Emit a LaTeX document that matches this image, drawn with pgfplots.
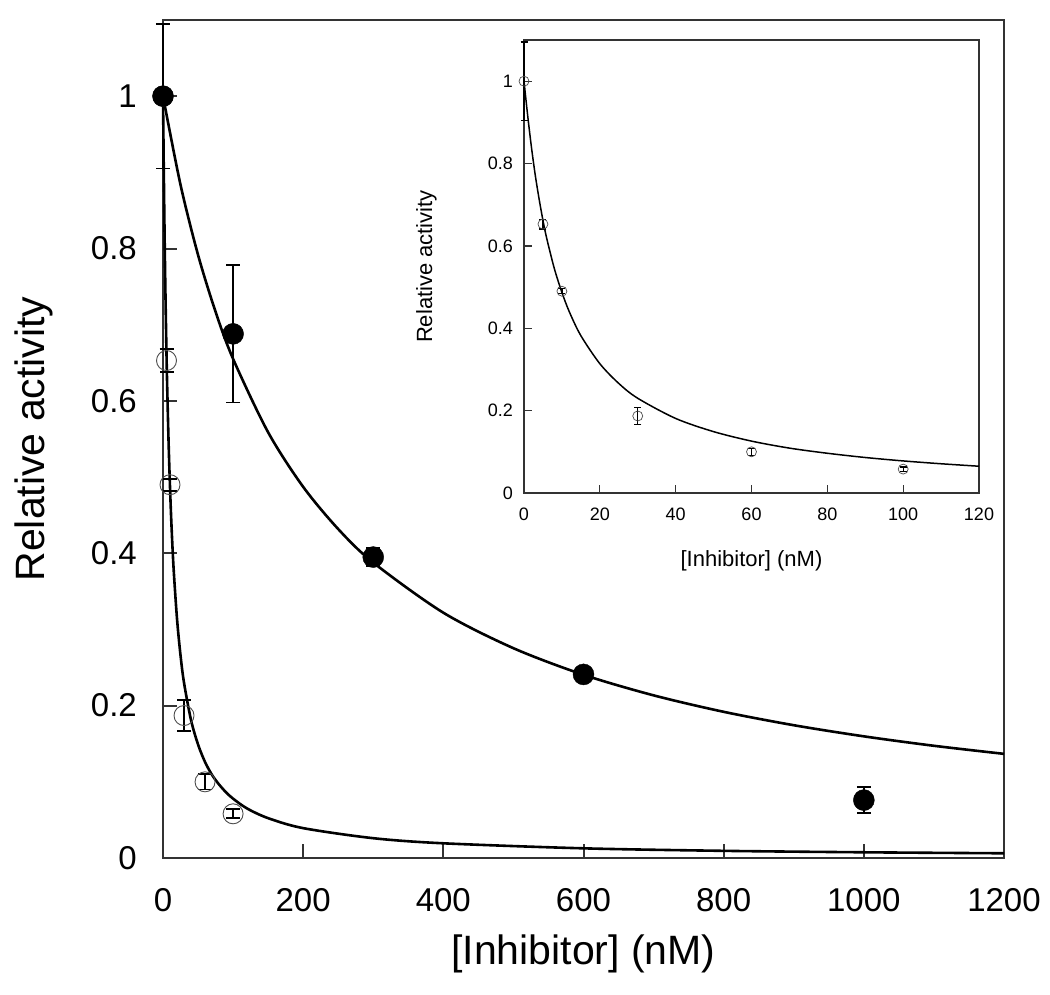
\documentclass[border=0pt]{standalone}
\usepackage{fontspec}
\setmainfont{Liberation Sans}
\usepackage{pgfplots}
\pgfplotsset{compat=1.18}
\begin{document}
\begin{tikzpicture}
\path[use as bounding box] (-163pt,-136pt) rectangle (887pt,858pt);
% ---------------- main axis ----------------
\begin{axis}[
  at={(0pt,0pt)}, anchor=south west,
  scale only axis, width=841pt, height=838pt,
  xmin=0, xmax=1200, ymin=0, ymax=1.1,
  clip=false,
  axis line style={black!80, line width=2.2pt},
  xtick={0,200,400,600,800,1000,1200},
  xticklabels={0,200,400,600,800,1000,1200},
  ytick={0,0.2,0.4,0.6,0.8,1},
  yticklabels={0,0.2,0.4,0.6,0.8,1},
  xtick pos=bottom, ytick pos=left, tick align=inside,
  major tick length=14pt,
  tick style={black!80, line width=2pt},
  ticklabel style={font=\fontsize{33}{33}\selectfont, inner sep=0pt},
  xticklabel style={anchor=north, yshift=-30pt},
  yticklabel style={anchor=east, xshift=-26pt},
  xlabel={[Inhibitor] (nM)},
  xlabel style={at={(axis description cs:0.5,-0.0919)}, anchor=north, inner sep=0pt, font=\fontsize{41}{41}\selectfont},
  ylabel={Relative activity},
  ylabel style={at={(axis description cs:-0.1308,0.5)}, anchor=south, inner sep=0pt, font=\fontsize{41}{41}\selectfont},
]
% fit curve, filled series
\addplot[black, line width=2.6pt, smooth] coordinates {
(0,1) (25,0.8837) (50,0.7917) (75,0.7170) (100,0.6552) (150,0.5588)
(200,0.4872) (250,0.4318) (300,0.3878) (400,0.3220) (500,0.2754)
(600,0.2405) (700,0.2135) (800,0.1919) (900,0.1743) (1000,0.1597)
(1100,0.1473) (1200,0.1367)};
% fit curve, open series
\addplot[black, line width=2.6pt, smooth] coordinates {
(0,1) (1,0.914) (2,0.837) (3,0.770) (4,0.713) (5,0.662) (6,0.618)
(8,0.545) (10,0.487) (12,0.439) (15,0.382) (20,0.314) (25,0.266)
(30,0.230) (40,0.181) (50,0.149) (60,0.126) (70,0.109) (80,0.0965)
(90,0.0862) (100,0.0779) (120,0.065) (150,0.0523) (200,0.0392)
(300,0.0260) (400,0.0193) (600,0.0127) (800,0.0094) (1000,0.0075) (1200,0.0062)};
% open data
\addplot[only marks, mark=o, mark size=10pt, mark options={draw=black!70, line width=0.9pt},
  error bars/.cd, y dir=both, y explicit,
  error bar style={line width=1.8pt, black},
  error mark options={rotate=90, mark size=7pt, line width=1.8pt, black}]
  table[x=x, y=y, y error=e] {
x y e
0 1 0.095
5 0.653 0.015
10 0.49 0.008
30 0.187 0.02
60 0.100 0.01
100 0.058 0.006
};
% filled data
\addplot[only marks, mark=*, mark size=10.5pt, black,
  error bars/.cd, y dir=both, y explicit,
  error bar style={line width=1.8pt, black},
  error mark options={rotate=90, mark size=7pt, line width=1.8pt, black}]
  table[x=x, y=y, y error=e] {
x y e
0 1 0
100 0.688 0.09
300 0.395 0.012
600 0.241 0.006
1000 0.076 0.017
};
\end{axis}
% ---------------- inset ----------------
\begin{axis}[
  at={(361pt,365pt)}, anchor=south west,
  scale only axis, width=455pt, height=453pt,
  xmin=0, xmax=120, ymin=0, ymax=1.1,
  clip=false,
  axis background/.style={fill=white},
  axis line style={black!80, line width=1.3pt},
  xtick={0,20,40,60,80,100,120},
  xticklabels={0,20,40,60,80,100,120},
  ytick={0,0.2,0.4,0.6,0.8,1},
  yticklabels={0,0.2,0.4,0.6,0.8,1},
  xtick pos=bottom, ytick pos=left, tick align=inside,
  major tick length=8pt,
  tick style={black!80, line width=1.2pt},
  ticklabel style={font=\fontsize{18}{18}\selectfont, inner sep=0pt},
  xticklabel style={anchor=north, yshift=-15pt},
  yticklabel style={anchor=east, xshift=-11pt},
  xlabel={[Inhibitor] (nM)},
  xlabel style={at={(axis description cs:0.5,-0.1258)}, anchor=north, inner sep=0pt, font=\fontsize{22}{22}\selectfont},
  ylabel={Relative activity},
  ylabel style={at={(axis description cs:-0.1912,0.5)}, anchor=south, inner sep=0pt, font=\fontsize{22}{22}\selectfont},
]
\addplot[black, line width=1.5pt, smooth] coordinates {
(0,1) (1,0.914) (2,0.837) (3,0.770) (4,0.713) (5,0.662) (6,0.618)
(8,0.545) (10,0.487) (12,0.439) (15,0.382) (20,0.314) (25,0.266)
(30,0.230) (40,0.181) (50,0.149) (60,0.126) (70,0.109) (80,0.0965)
(90,0.0862) (100,0.0779) (110,0.0710) (120,0.065)};
\addplot[only marks, mark=o, mark size=5pt, mark options={draw=black!70, line width=0.7pt},
  error bars/.cd, y dir=both, y explicit,
  error bar style={line width=1.2pt, black},
  error mark options={rotate=90, mark size=3.5pt, line width=1.2pt, black}]
  table[x=x, y=y, y error=e] {
x y e
0 1 0.095
5 0.653 0.012
10 0.49 0.006
30 0.187 0.02
60 0.100 0.008
100 0.058 0.005
};
\end{axis}
\end{tikzpicture}
\end{document}
